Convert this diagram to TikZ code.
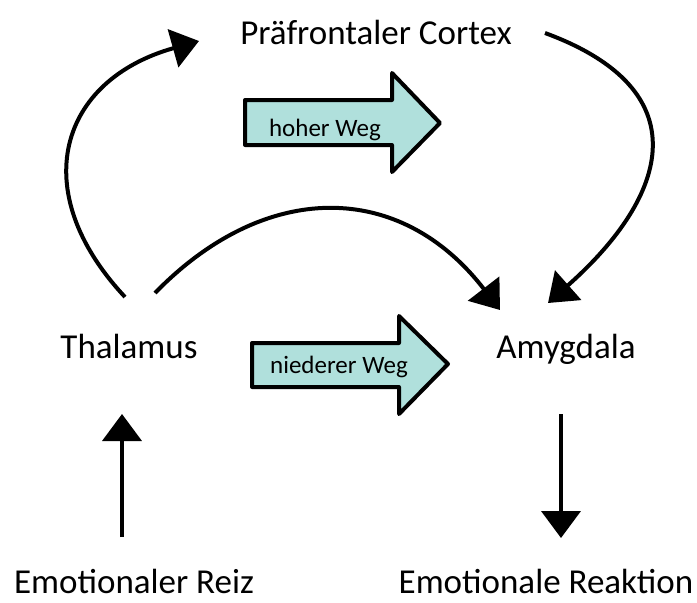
\documentclass[tikz,border=0pt]{standalone}
\usepackage{fontspec}
\setmainfont{Carlito}
\usetikzlibrary{arrows.meta}
\definecolor{tealfill}{RGB}{176,224,220}
\begin{document}
\begin{tikzpicture}[x=1pt,y=-1pt,
  lbl/.style={font=\fontsize{35}{40}\selectfont, inner sep=0pt, anchor=base},
  wl/.style={font=\fontsize{25}{30}\selectfont, inner sep=0pt, anchor=base},
  conn/.style={line width=4pt, -{Triangle[length=27pt,width=39pt]}},
  blk/.style={line width=4pt, fill=tealfill, line join=round}]
\useasboundingbox (0,0) rectangle (697,603);

% text nodes
\node[lbl] (pfc) at (376,44) {Präfrontaler Cortex};
\node[lbl] (thal) at (129,358) {Thalamus};
\node[lbl] (amy) at (566,358) {Amygdala};
\node[lbl] (reiz) at (134,593) {Emotionaler Reiz};
\node[lbl] (reak) at (546,593) {Emotionale Reaktion};

% block arrows
\draw[blk] (245,100) -- (392,100) -- (392,73) -- (440,123) -- (392,172) -- (392,145) -- (245,145) -- cycle;
\node[wl] (hoch) at (325,136) {hoher Weg};
\draw[blk] (252,343) -- (399,343) -- (399,316) -- (448,364) -- (399,414) -- (399,387) -- (252,387) -- cycle;
\node[wl] (nied) at (339,373) {niederer Weg};

% connector end points
\coordinate (thalTopL) at (125,297);
\coordinate (thalTopR) at (155,293);
\coordinate (pfcIn) at (199,41);
\coordinate (pfcOut) at (545,33);
\coordinate (amyInL) at (500,310);
\coordinate (amyInR) at (548,303);
\coordinate (thalBot) at (122,414);
\coordinate (reizTop) at (122,537);
\coordinate (amyBot) at (561,414);
\coordinate (reakTop) at (561,538);

% connectors
\draw[conn] (thalTopL) .. controls (25,190) and (60,80) .. (pfcIn);
\draw[conn] (thalTopR) .. controls (265,180) and (400,180) .. (amyInL);
\draw[conn] (pfcOut) .. controls (700,90) and (670,195) .. (amyInR);
\draw[conn] (reizTop) -- (thalBot);
\draw[conn] (amyBot) -- (reakTop);
\end{tikzpicture}
\end{document}
